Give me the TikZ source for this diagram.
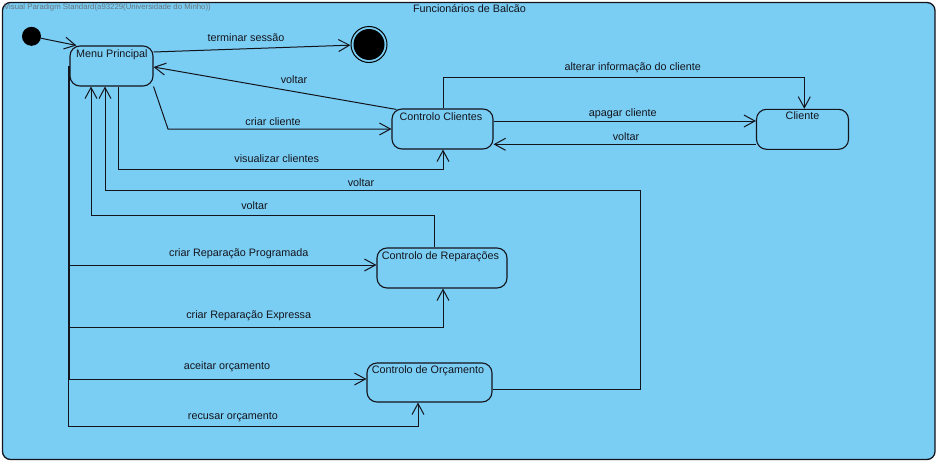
\documentclass[tikz,border=0pt]{standalone}
\usepackage{fontspec}
\setmainfont{Liberation Sans}
\usetikzlibrary{arrows.meta,calc}
\definecolor{vpblue}{RGB}{122,206,244}
\definecolor{ink}{RGB}{20,20,28}
\definecolor{wm}{RGB}{105,115,125}
\begin{document}
\begin{tikzpicture}[x=1pt,y=-1pt,
  every node/.style={font=\fontsize{10.8}{12}\selectfont, text=ink},
  stbox/.style={draw=ink, line width=1.1pt, rounded corners=10pt, fill=vpblue, inner sep=0pt},
  tr/.style={draw=ink, line width=1pt, -{Straight Barb[length=11pt,width=12pt]}},
  lab/.style={anchor=base, inner sep=0pt},
  stxt/.style={anchor=base west, inner sep=0pt}]
\useasboundingbox (0,0) rectangle (939,463);
% frame
\draw[fill=vpblue, draw=ink, line width=1.3pt, rounded corners=8pt] (2.5,2.5) rectangle (935,459.5);
\node[anchor=base east, inner sep=0pt, text=wm, font=\fontsize{7.8}{9}\selectfont] (wmark) at (211,9.6) {Visual Paradigm Standard(a93229(Universidade do Minho))};
\node[lab] (title) at (469.5,12.7) {Funcionários de Balcão};

% states
\node[circle, fill=black, minimum size=19pt, inner sep=0pt] (init) at (31.5,36.3) {};
\node[circle, draw=black, line width=1pt, fill=vpblue, minimum size=36pt, inner sep=0pt] (final) at (369,44.5) {};
\node[circle, fill=black, minimum size=31pt, inner sep=0pt] (finalin) at (final.center) {};

\node[stbox, minimum width=83pt, minimum height=40pt] (menu) at (111.5,66) {};
\node[stbox, minimum width=101pt, minimum height=40pt] (cc) at (442.5,129) {};
\node[stbox, minimum width=92pt, minimum height=40pt] (cli) at (802.5,129.3) {};
\node[stbox, minimum width=130pt, minimum height=40pt] (rep) at (442,268) {};
\node[stbox, minimum width=125pt, minimum height=39pt] (orc) at (429.5,382.5) {};

\node[stxt] (menuT) at (76,57.3) {Menu Principal};
\node[stxt] (ccT) at (399.3,120) {Controlo Clientes};
\node[lab] (cliT) at (802.5,119.3) {Cliente};
\node[stxt] (repT) at (381.7,259) {Controlo de Reparações};
\node[stxt] (orcT) at (371.7,373) {Controlo de Orçamento};

% transitions
\draw[tr] (init) -- ([xshift=7pt]menu.north west);
\draw[tr] ([yshift=14pt]menu.east) -- (final);
\node[lab] (l1) at (246,41.7) {terminar sessão};

\draw[tr] ([xshift=5pt,yshift=-1pt]cc.north west) -- ([yshift=-1pt]menu.east);
\node[lab] (l2) at (294,83.3) {voltar};

\draw[tr] (menu.south east) -- (cc.west -| 168,0) -- (cc.west);
\node[lab] (l3) at (273,125) {criar cliente};

\draw[tr] ([xshift=6.5pt]menu.south) -- ++(0,83) -| ([xshift=0.5pt]cc.south);
\node[lab] (l4) at (276.7,162.7) {visualizar clientes};

\draw[tr] ([yshift=-7pt]orc.east) -- ++(148,0) -- ++(0,-199.5) -| ([xshift=-6.5pt]menu.south);
\node[lab] (l5) at (361,186) {voltar};

\draw[tr] ([xshift=-8pt]rep.north) -- ++(0,-32) -| ([xshift=-20.5pt]menu.south);
\node[lab] (l6) at (254.5,209.3) {voltar};

\draw[tr] (menu.west) |- ([yshift=3pt]rep.west);
\node[lab] (l7) at (238.8,256) {criar Reparação Programada};

\draw[tr] (menu.west) -- ++(0,261) -| ([xshift=1pt]rep.south);
\node[lab] (l8) at (248.7,318.3) {criar Reparação Expressa};

\draw[tr] (menu.west) |- ([yshift=3.5pt]orc.west);
\node[lab] (l9) at (227,369.3) {aceitar orçamento};

\draw[tr] ([xshift=-0.7pt]menu.west) -- ++(0,360) -| ([xshift=-11.5pt]orc.south);
\node[lab] (l10) at (233,419) {recusar orçamento};

\draw[tr] ([xshift=1pt]cc.north) -- ++(0,-31) -| ([xshift=1.8pt]cli.north);
\node[lab] (l11) at (632.7,70) {alterar informação do cliente};

\draw[tr] ([yshift=8pt]cc.east) -- ([yshift=8.3pt]cli.west);
\node[lab] (l12) at (622.8,116) {apagar cliente};

\draw[tr] ([yshift=-15pt]cli.west) -- ([yshift=-15.3pt]cc.east);
\node[lab] (l13) at (626,140) {voltar};
\end{tikzpicture}
\end{document}
